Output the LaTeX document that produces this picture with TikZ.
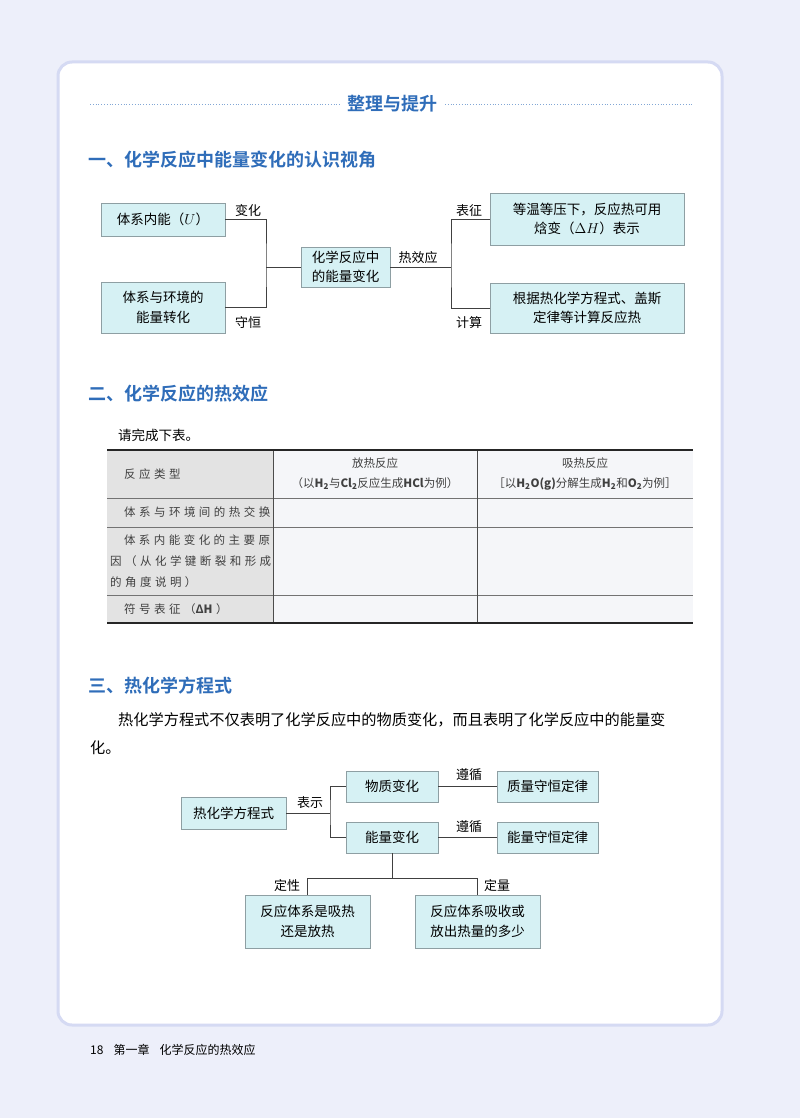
\documentclass[tikz,border=0pt]{standalone}
\usepackage{fontspec}
\setmainfont{Liberation Serif}
\newfontfamily\cjk{Noto Sans CJK SC}
\newfontfamily\cjkb{Noto Sans CJK SC Bold}
\newfontfamily\cjks[LetterSpace=30]{Noto Sans CJK SC}
\definecolor{bg}{HTML}{EDEFFA}
\definecolor{cardline}{HTML}{D5DAF3}
\definecolor{boxfill}{HTML}{D6F1F4}
\definecolor{boxline}{HTML}{8E9FA3}
\definecolor{head}{HTML}{2F6DB9}
\definecolor{gcell}{HTML}{E3E3E3}
\definecolor{pcell}{HTML}{F5F6F9}
\begin{document}
\begin{tikzpicture}[x=1pt,y=-1pt,
  bx/.style={draw=boxline,fill=boxfill,line width=0.8pt,inner sep=0pt,align=center,font=\cjk\fontsize{13.5}{19.5}\selectfont},
  lbl/.style={font=\cjk\fontsize{13}{15}\selectfont,inner sep=1pt},
  ln/.style={draw=black!75,line width=0.8pt},
  hd/.style={font=\cjkb\fontsize{18}{20}\selectfont,text=head,anchor=west,inner sep=0pt},
  tc/.style={font=\cjk\fontsize{11.5}{20}\selectfont,text=black!75,inner sep=0pt,align=center},
  tl/.style={font=\cjks\fontsize{11.5}{21}\selectfont,text=black!75,inner sep=0pt,align=left,anchor=west}]
\useasboundingbox (0,0) rectangle (800,1118);
\fill[bg] (0,0) rectangle (800,1118);
\filldraw[fill=white,draw=cardline,line width=3pt,rounded corners=14pt] (58,62) rectangle (722,1025);
% title
\node[font=\cjkb\fontsize{18}{20}\selectfont,text=head] (t) at (392,104) {整理与提升};
\coordinate (d1a) at (90,104); \coordinate (d1b) at (340,104);
\coordinate (d2a) at (445,104); \coordinate (d2b) at (692,104);
\draw[head!60,dotted,line width=0.8pt] (d1a) -- (d1b) (d2a) -- (d2b);
% section 1
\node[hd] (h1) at (88,160) {一、化学反应中能量变化的认识视角};
\node[bx,minimum width=124,minimum height=33] (A) at (163,219.5) {体系内能（$U$）};
\node[bx,minimum width=124,minimum height=51] (B) at (163,307.5) {体系与环境的\\能量转化};
\node[bx,minimum width=89,minimum height=40] (C) at (345.5,267) {化学反应中\\的能量变化};
\node[bx,minimum width=194,minimum height=52] (D) at (587,219) {等温等压下，反应热可用\\焓变（$\Delta H$）表示};
\node[bx,minimum width=194,minimum height=50] (E) at (587,308) {根据热化学方程式、盖斯\\定律等计算反应热};
\coordinate (j1) at (266,267); \coordinate (j2) at (451,267);
\draw[ln] (A.east) -| (j1) |- (B.east);
\draw[ln] (j1) -- (C.west);
\draw[ln] (C.east) -- (j2);
\draw[ln] (D.west) -| (j2) |- (E.west);
\node[lbl] (l1) at (248,211) {变化};
\node[lbl] (l2) at (248,323) {守恒};
\node[lbl] (l3) at (418,258) {热效应};
\node[lbl] (l4) at (469,211) {表征};
\node[lbl] (l5) at (469,323) {计算};
% section 2
\node[hd] (h2) at (88,394) {二、化学反应的热效应};
\node[font=\cjk\fontsize{13.5}{15}\selectfont,anchor=west,inner sep=0pt] (p0) at (118,435) {请完成下表。};
\fill[gcell] (107,450) rectangle (273,623);
\fill[pcell] (273,450) rectangle (693,623);
\draw[black!55,line width=0.6pt] (107,498) -- (693,498) (107,527) -- (693,527) (107,595) -- (693,595);
\draw[black!70,line width=0.8pt] (273,450) -- (273,623) (477,450) -- (477,623);
\draw[black!85,line width=1.8pt] (107,450) -- (693,450) (107,623) -- (693,623);
\node[tl] (c11) at (124,474) {反应类型};
\node[tc] (c12) at (375,474) {放热反应\\（以\textbf{H\textsubscript{2}}与\textbf{Cl\textsubscript{2}}反应生成\textbf{HCl}为例）};
\node[tc] (c13) at (585,474) {吸热反应\\［以\textbf{H\textsubscript{2}O(g)}分解生成\textbf{H\textsubscript{2}}和\textbf{O\textsubscript{2}}为例］};
\node[tl] (c21) at (124,512.5) {体系与环境间的热交换};
\node[tl] (c31) at (110,561) {\hspace*{1.2em}体系内能变化的主要原\\因（从化学键断裂和形成\\的角度说明）};
\node[tl] (c41) at (124,609) {符号表征（{\cjkb Δ}\textbf{\textit{H}}）};
% section 3
\node[hd] (h3) at (88,686) {三、热化学方程式};
\node[font=\cjk\fontsize{15.2}{17}\selectfont,anchor=west,inner sep=0pt] (p1) at (118,720) {热化学方程式不仅表明了化学反应中的物质变化，而且表明了化学反应中的能量变};
\node[font=\cjk\fontsize{15.2}{17}\selectfont,anchor=west,inner sep=0pt] (p2) at (90,748) {化。};
\node[bx,minimum width=105,minimum height=32] (F) at (233.5,813) {热化学方程式};
\node[bx,minimum width=92,minimum height=31] (G) at (392,786.5) {物质变化};
\node[bx,minimum width=92,minimum height=31] (H) at (392,837.5) {能量变化};
\node[bx,minimum width=101,minimum height=31] (I) at (547.5,786.5) {质量守恒定律};
\node[bx,minimum width=101,minimum height=31] (J) at (547.5,837.5) {能量守恒定律};
\node[bx,minimum width=125,minimum height=53] (K) at (307.5,921.5) {反应体系是吸热\\还是放热};
\node[bx,minimum width=125,minimum height=53] (L) at (477.5,921.5) {反应体系吸收或\\放出热量的多少};
\coordinate (j3) at (330,813); \coordinate (j4) at (392,878);
\draw[ln] (F.east) -- (j3);
\draw[ln] (G.west) -| (j3) |- (H.west);
\draw[ln] (G.east) -- (I.west);
\draw[ln] (H.east) -- (J.west);
\draw[ln] (H.south) -- (j4);
\draw[ln] (K.north) |- (j4) -| (L.north);
\node[lbl] (m1) at (310,803) {表示};
\node[lbl] (m2) at (469,775) {遵循};
\node[lbl] (m3) at (469,827) {遵循};
\node[lbl] (m4) at (287,886) {定性};
\node[lbl] (m5) at (497,886) {定量};
% footer
\node[font=\cjk\fontsize{12}{14}\selectfont,anchor=west,inner sep=0pt] (ft) at (90,1050) {18\hspace{10pt}第一章\hspace{10pt}化学反应的热效应};
\end{tikzpicture}
\end{document}
